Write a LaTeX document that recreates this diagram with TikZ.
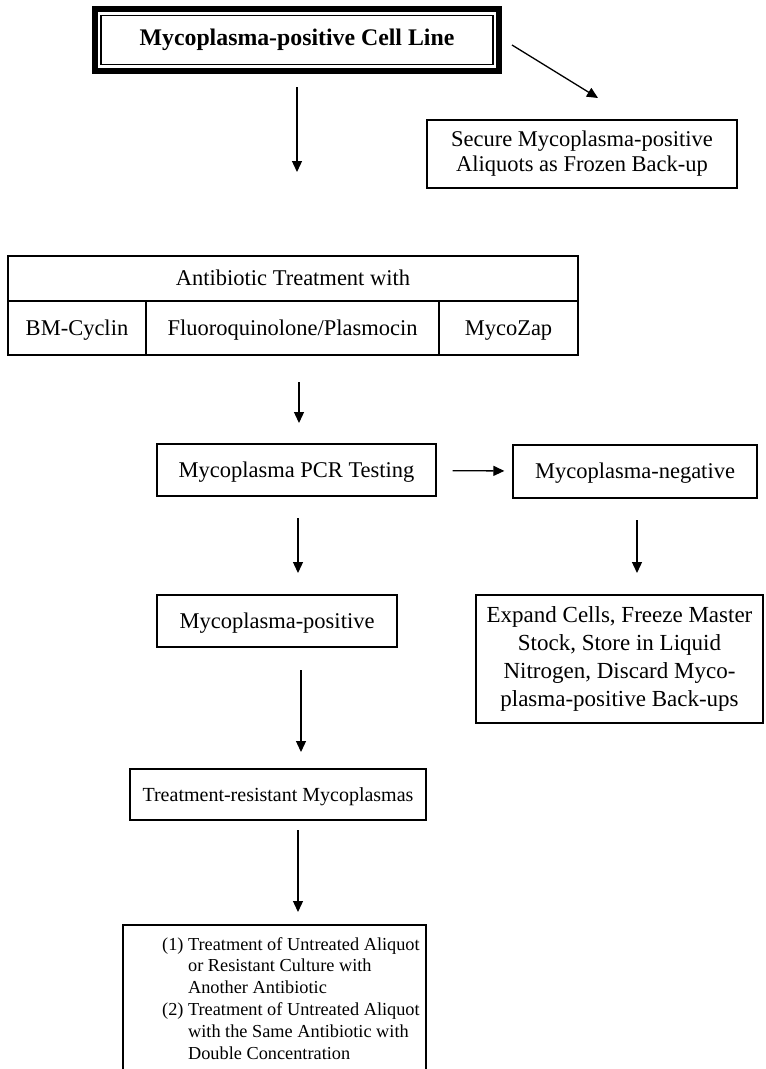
\documentclass[tikz,border=0pt]{standalone}
\usepackage{fontspec}
\setmainfont{Liberation Serif}
\usetikzlibrary{arrows.meta}

\newcommand{\boxfont}{\fontsize{22.5}{25}\selectfont}
\newcommand{\bigboxfont}{\fontsize{23}{28}\selectfont}
\newcommand{\smallboxfont}{\fontsize{18.3}{21.8}\selectfont}

\tikzset{
  box/.style={draw, line width=1.3pt, align=center, inner sep=0pt, font=\boxfont},
  cellbox/.style={box, minimum height=#1, text height=17pt, text depth=3pt},
  flow/.style={->, line width=1.3pt}
}

\begin{document}
\begin{tikzpicture}[x=1pt, y=-1pt, >={Triangle[length=11pt, width=10pt]}]

    \useasboundingbox (0,0) rectangle (766,1069);

    % --- The cell line on top (double frame) ---
    \node[box, line width=1.2pt, minimum width=392, minimum height=49,
          font=\fontsize{23.8}{28}\selectfont\bfseries] (cell) at (297,40)
          {Mycoplasma-positive Cell Line};
    \draw[line width=6pt] ([shift={(-5.6,-5.6)}]cell.north west)
          rectangle ([shift={(5.6,5.6)}]cell.south east);

    % --- Back-up branch ---
    \node[box, minimum width=310, minimum height=68] (backup) at (582,154)
          {Secure Mycoplasma-positive\\Aliquots as Frozen Back-up};
    \coordinate (d1) at (512,45);
    \coordinate (d2) at (598,98);
    \draw[flow] (d1) -- (d2);

    \coordinate (v1) at (297,87);
    \coordinate (v2) at (297,172);
    \draw[flow] (v1) -- (v2);

    % --- Antibiotic table ---
    \node[cellbox=45, minimum width=570] (treat) at (293,278.5) {Antibiotic Treatment with};
    \node[cellbox=54, minimum width=138] (bmc) at (77,328) {BM-Cyclin};
    \node[cellbox=54, minimum width=293] (fluo) at (292.5,328) {Fluoroquinolone/Plasmocin};
    \node[cellbox=54, minimum width=139] (mzap) at (508.5,328) {MycoZap};

    \coordinate (v3) at (299,382);
    \coordinate (v4) at (299,423);
    \draw[flow] (v3) -- (v4);

    % --- PCR testing and its two outcomes ---
    \node[cellbox=52, minimum width=279] (pcr) at (296.5,470) {Mycoplasma PCR Testing};
    \node[cellbox=53, minimum width=244] (neg) at (635,471.5) {Mycoplasma-negative};
    \draw[flow, shorten <=16pt, shorten >=8pt] (pcr) -- (neg);

    \node[box, minimum width=287, minimum height=128, font=\bigboxfont] (expand) at (619.5,659)
          {Expand Cells, Freeze Master\\Stock, Store in Liquid\\Nitrogen, Discard Myco-\\plasma-positive Back-ups};
    \coordinate (v5) at (637,520);
    \coordinate (v6) at (637,573);
    \draw[flow] (v5) -- (v6);

    \coordinate (v7) at (298,518);
    \coordinate (v8) at (298,573);
    \draw[flow] (v7) -- (v8);

    \node[cellbox=52, minimum width=240] (pos) at (277,621) {Mycoplasma-positive};

    \coordinate (v9) at (301,670);
    \coordinate (v10) at (301,752);
    \draw[flow] (v9) -- (v10);

    % --- Resistant branch ---
    \node[cellbox=51, minimum width=296, font=\fontsize{20}{23}\selectfont] (resist) at (278,794.5)
          {Treatment-resistant Mycoplasmas};

    \coordinate (v11) at (298,830);
    \coordinate (v12) at (298,912);
    \draw[flow] (v11) -- (v12);

    % frame runs past the lower edge
    \draw[line width=1.3pt] (123,925) rectangle (426,1090);
    \node[anchor=north west, inner sep=0pt, align=left, font=\smallboxfont] (retreat) at (162,937)
          {(1) Treatment of Untreated Aliquot\\
           \phantom{(1) }or Resistant Culture with\\
           \phantom{(1) }Another Antibiotic\\
           (2) Treatment of Untreated Aliquot\\
           \phantom{(2) }with the Same Antibiotic with\\
           \phantom{(2) }Double Concentration};

  \end{tikzpicture}
\end{document}
